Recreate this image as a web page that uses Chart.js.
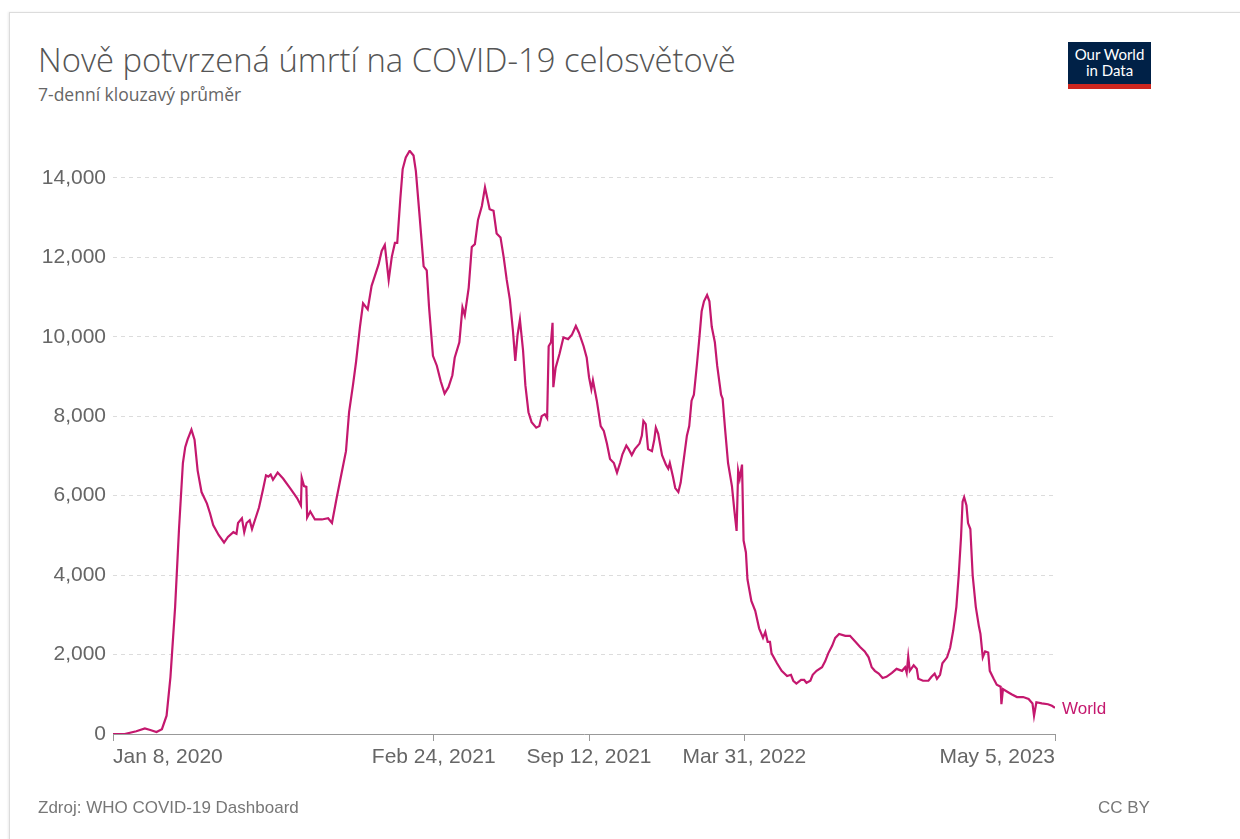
<!DOCTYPE html>
<html lang="cs">
<head>
<meta charset="utf-8">
<title>Nově potvrzená úmrtí na COVID-19 celosvětově</title>
<script src="https://cdn.jsdelivr.net/npm/chart.js@4.4.1/dist/chart.umd.min.js"></script>
<style>
  html, body { margin: 0; padding: 0; background: #fff; }
  #page { position: relative; width: 1240px; height: 839px; overflow: hidden; }
  #frame {
    position: absolute; left: 9px; top: 12px; width: 1240px; height: 840px;
    border: 1px solid #dcdcdc; box-shadow: -1px 0 2px rgba(0, 0, 0, 0.08);
  }
  #chart { position: absolute; left: 0; top: 0; }
  .title {
    position: absolute; left: 38px; top: 44px; white-space: nowrap;
    font: 300 32.8px/32.8px 'Open Sans', sans-serif; color: #555;
  }
  .subtitle {
    position: absolute; left: 38px; top: 86px; white-space: nowrap;
    font: 400 17.5px/17.5px 'Open Sans', sans-serif; color: #666;
  }
  .note {
    position: absolute; top: 798px; white-space: nowrap;
    font: 400 17px/20px 'Liberation Sans', Arial, sans-serif; color: #777;
  }
  .logo {
    position: absolute; left: 1068px; top: 42px; width: 83px; height: 47px;
    background: #002147; box-sizing: border-box; border-bottom: 5px solid #ce261e;
    color: #fff; text-align: center; font: 400 15px/16px Lato, sans-serif; padding-top: 4px;
  }
</style>
</head>
<body>
<div id="page">
  <div id="frame"></div>
  <div class="title">Nově potvrzená úmrtí na COVID-19 celosvětově</div>
  <div class="subtitle">7-denní klouzavý průměr</div>
  <div class="logo">Our World<br>in Data</div>
  <canvas id="chart" width="1240" height="839"></canvas>
  <div class="note" style="left:38px">Zdroj: WHO COVID-19 Dashboard</div>
  <div class="note" style="left:1098px">CC BY</div>
</div>
<script>
// daily new deaths, 7-day rolling average (World)
const dates = [
  '2020-01-08', '2020-01-23', '2020-02-07', '2020-02-18', '2020-02-25', '2020-03-04', '2020-03-11', '2020-03-17',
  '2020-03-22', '2020-03-28', '2020-04-02', '2020-04-07', '2020-04-10', '2020-04-13', '2020-04-15', '2020-04-18',
  '2020-04-22', '2020-04-26', '2020-05-01', '2020-05-08', '2020-05-12', '2020-05-16', '2020-05-23', '2020-05-30',
  '2020-06-04', '2020-06-11', '2020-06-15', '2020-06-17', '2020-06-22', '2020-06-25', '2020-06-28', '2020-07-02',
  '2020-07-05', '2020-07-09', '2020-07-14', '2020-07-19', '2020-07-23', '2020-07-26', '2020-07-29', '2020-08-01',
  '2020-08-07', '2020-08-14', '2020-08-23', '2020-09-01', '2020-09-06', '2020-09-07', '2020-09-10', '2020-09-13',
  '2020-09-14', '2020-09-18', '2020-09-24', '2020-10-03', '2020-10-11', '2020-10-16', '2020-10-22', '2020-10-28',
  '2020-11-03', '2020-11-07', '2020-11-12', '2020-11-16', '2020-11-21', '2020-11-25', '2020-12-01', '2020-12-06',
  '2020-12-10', '2020-12-15', '2020-12-19', '2020-12-23', '2020-12-28', '2021-01-01', '2021-01-05', '2021-01-08',
  '2021-01-12', '2021-01-15', '2021-01-19', '2021-01-24', '2021-01-29', '2021-02-01', '2021-02-06', '2021-02-11',
  '2021-02-15', '2021-02-18', '2021-02-23', '2021-02-28', '2021-03-05', '2021-03-10', '2021-03-15', '2021-03-20',
  '2021-03-23', '2021-03-29', '2021-04-02', '2021-04-05', '2021-04-10', '2021-04-14', '2021-04-18', '2021-04-22',
  '2021-04-27', '2021-05-01', '2021-05-07', '2021-05-12', '2021-05-16', '2021-05-21', '2021-05-25', '2021-05-29',
  '2021-06-02', '2021-06-06', '2021-06-09', '2021-06-12', '2021-06-15', '2021-06-19', '2021-06-22', '2021-06-26',
  '2021-06-30', '2021-07-06', '2021-07-10', '2021-07-13', '2021-07-17', '2021-07-20', '2021-07-22', '2021-07-25',
  '2021-07-27', '2021-07-28', '2021-07-31', '2021-08-05', '2021-08-10', '2021-08-16', '2021-08-21', '2021-08-26',
  '2021-08-30', '2021-09-05', '2021-09-09', '2021-09-12', '2021-09-15', '2021-09-17', '2021-09-22', '2021-09-27',
  '2021-10-01', '2021-10-05', '2021-10-09', '2021-10-14', '2021-10-18', '2021-10-22', '2021-10-25', '2021-10-30',
  '2021-11-02', '2021-11-06', '2021-11-10', '2021-11-16', '2021-11-19', '2021-11-21', '2021-11-24', '2021-11-27',
  '2021-12-02', '2021-12-05', '2021-12-07', '2021-12-10', '2021-12-15', '2021-12-20', '2021-12-23', '2021-12-25',
  '2021-12-29', '2022-01-01', '2022-01-05', '2022-01-08', '2022-01-12', '2022-01-16', '2022-01-19', '2022-01-22',
  '2022-01-25', '2022-01-29', '2022-02-01', '2022-02-04', '2022-02-07', '2022-02-11', '2022-02-14', '2022-02-17',
  '2022-02-21', '2022-02-24', '2022-03-01', '2022-03-03', '2022-03-06', '2022-03-10', '2022-03-15', '2022-03-18',
  '2022-03-21', '2022-03-23', '2022-03-25', '2022-03-28', '2022-03-30', '2022-04-02', '2022-04-04', '2022-04-09',
  '2022-04-14', '2022-04-19', '2022-04-24', '2022-04-27', '2022-04-30', '2022-05-03', '2022-05-05', '2022-05-12',
  '2022-05-18', '2022-05-25', '2022-05-30', '2022-06-02', '2022-06-06', '2022-06-12', '2022-06-16', '2022-06-19',
  '2022-06-24', '2022-06-27', '2022-07-02', '2022-07-09', '2022-07-13', '2022-07-17', '2022-07-22', '2022-07-26',
  '2022-07-31', '2022-08-08', '2022-08-14', '2022-08-21', '2022-08-27', '2022-09-02', '2022-09-07', '2022-09-11',
  '2022-09-15', '2022-09-20', '2022-09-25', '2022-09-30', '2022-10-07', '2022-10-13', '2022-10-20', '2022-10-24',
  '2022-10-26', '2022-10-28', '2022-10-30', '2022-11-04', '2022-11-08', '2022-11-10', '2022-11-16', '2022-11-23',
  '2022-11-27', '2022-12-01', '2022-12-04', '2022-12-08', '2022-12-11', '2022-12-17', '2022-12-21', '2022-12-25',
  '2022-12-29', '2023-01-01', '2023-01-04', '2023-01-06', '2023-01-08', '2023-01-11', '2023-01-13', '2023-01-16',
  '2023-01-19', '2023-01-23', '2023-01-27', '2023-01-29', '2023-02-01', '2023-02-04', '2023-02-08', '2023-02-10',
  '2023-02-15', '2023-02-19', '2023-02-24', '2023-02-25', '2023-02-27', '2023-03-04', '2023-03-10', '2023-03-17',
  '2023-03-25', '2023-04-01', '2023-04-06', '2023-04-08', '2023-04-11', '2023-04-18', '2023-04-26', '2023-05-01',
  '2023-05-05'
]

const deaths = [
  0, 0, 70, 140, 100, 50, 120, 460,
  1440, 3200, 5160, 6820, 7220, 7410, 7510, 7660,
  7410, 6630, 6090, 5800, 5550, 5260, 5010, 4820,
  4960, 5080, 5040, 5310, 5430, 5080, 5310, 5380,
  5160, 5400, 5700, 6140, 6510, 6480, 6530, 6400,
  6580, 6430, 6190, 5940, 5750, 6450, 6240, 6220,
  5450, 5600, 5400, 5400, 5430, 5310, 5940, 6530,
  7120, 8100, 8780, 9370, 10250, 10840, 10690, 11280,
  11520, 11820, 12160, 12310, 11430, 12010, 12360, 12360,
  13480, 14220, 14510, 14680, 14560, 14170, 12990, 11770,
  11670, 10740, 9520, 9270, 8880, 8570, 8730, 9030,
  9470, 9860, 10740, 10540, 11230, 12260, 12330, 12940,
  13290, 13760, 13210, 13170, 12600, 12500, 12010, 11430,
  10940, 10150, 9390, 10050, 10430, 9660, 8780, 8100,
  7850, 7710, 7750, 8000, 8050, 7950, 9760, 9860,
  10350, 8730, 9220, 9570, 9980, 9940, 10050, 10270,
  10100, 9760, 9470, 8980, 8680, 8900, 8390, 7750,
  7630, 7310, 6920, 6820, 6580, 6820, 7040, 7260,
  7170, 7020, 7170, 7310, 7510, 7880, 7800, 7170,
  7120, 7410, 7710, 7560, 7020, 6780, 6680, 6820,
  6480, 6190, 6090, 6330, 6920, 7510, 7750, 8390,
  8540, 9320, 9960, 10640, 10890, 11050, 10890, 10250,
  9860, 9270, 8540, 8440, 7710, 6820, 6240, 5650,
  5110, 6630, 6430, 6780, 4870, 4570, 3890, 3350,
  3100, 2660, 2420, 2570, 2320, 2320, 2030, 1780,
  1590, 1460, 1490, 1340, 1270, 1360, 1360, 1290,
  1340, 1490, 1590, 1680, 1830, 2030, 2220, 2420,
  2520, 2470, 2470, 2320, 2190, 2080, 1930, 1680,
  1590, 1520, 1410, 1440, 1540, 1640, 1590, 1680,
  1540, 1950, 1590, 1730, 1640, 1390, 1340, 1340,
  1440, 1520, 1390, 1490, 1780, 1930, 2170, 2610,
  3200, 3990, 4960, 5850, 5960, 5750, 5310, 5160,
  3990, 3200, 2710, 2520, 1930, 2080, 2050, 1590,
  1390, 1240, 1190, 750, 1130, 1070, 1000, 930,
  930, 880, 770, 460, 800, 770, 750, 710,
  660
]

const tickDates = ['2020-01-08', '2021-02-24', '2021-09-12', '2022-03-31', '2023-05-05']
const tickLabels = ['Jan 8, 2020', 'Feb 24, 2021', 'Sep 12, 2021', 'Mar 31, 2022', 'May 5, 2023']
const yTicks = [0, 2000, 4000, 6000, 8000, 10000, 12000, 14000]

const seriesName = 'World'
const lineColor = '#c4186e'
const axisFont = { family: "'Liberation Sans', Arial, sans-serif", size: 21 }

// x axis runs on days since the first date
const DAY = 24 * 3600 * 1000
const start = Date.parse(dates[0])
const toDay = d => Math.round((Date.parse(d) - start) / DAY)

const points = dates.map((d, i) => ({ x: toDay(d), y: deaths[i] }))
const tickDays = tickDates.map(toDay)

// series name next to the last point
const endLabel = {
  id: 'endLabel',
  afterDatasetsDraw (chart) {
    const meta = chart.getDatasetMeta(0)
    const last = meta.data[meta.data.length - 1]
    const c = chart.ctx
    c.save()
    c.font = "17px 'Liberation Sans', Arial, sans-serif"
    c.fillStyle = lineColor
    c.textBaseline = 'middle'
    c.fillText(seriesName, last.x + 7, last.y + 2)
    c.restore()
  }
}

const charts = () => {
  const ctx = document.getElementById('chart')

  new Chart(ctx, {
    type: 'line',
    data: {
      datasets: [{
        label: seriesName,
        data: points,
        borderColor: lineColor,
        borderWidth: 2.2,
        pointRadius: 0,
        tension: 0
      }]
    },
    options: {
      responsive: false,
      animation: false,
      layout: { padding: { top: 150, right: 185, bottom: 65, left: 0 } },
      plugins: {
        legend: { display: false },
        tooltip: { enabled: false }
      },
      scales: {
        x: {
          type: 'linear',
          min: 0,
          max: tickDays[tickDays.length - 1],
          afterBuildTicks: scale => { scale.ticks = tickDays.map(v => ({ value: v })) },
          afterFit: scale => { scale.height = 40 },
          ticks: {
            align: 'inner',
            autoSkip: false,
            maxRotation: 0,
            padding: 4,
            color: '#666',
            font: axisFont,
            callback: v => tickLabels[tickDays.indexOf(v)]
          },
          grid: { drawOnChartArea: false, tickLength: 7, color: '#999' },
          border: { color: '#999', width: 1 }
        },
        y: {
          min: 0,
          max: 14700,
          afterBuildTicks: scale => { scale.ticks = yTicks.map(v => ({ value: v })) },
          afterFit: scale => { scale.width = 113 },
          ticks: {
            padding: 7,
            color: '#666',
            font: axisFont,
            callback: v => v.toLocaleString('en-US')
          },
          grid: { color: '#dcdcdc', drawTicks: false },
          border: { display: false, dash: [4, 4] }
        }
      }
    },
    plugins: [endLabel]
  })
}

charts()
</script>
</body>
</html>
